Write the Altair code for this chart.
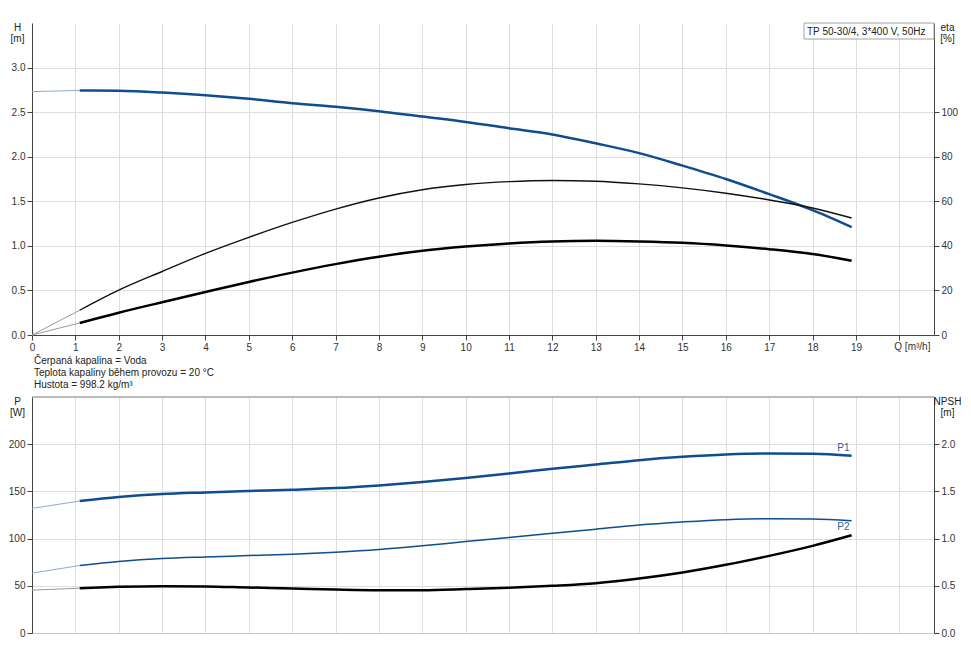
import altair as alt
import pandas as pd

# ---- data ----
Q = [1.1, 2, 3, 4, 5, 6, 7, 8, 9, 10, 11, 12, 13, 14, 15, 16, 17, 18, 18.9]
H = [2.744, 2.74, 2.72, 2.69, 2.65, 2.60, 2.56, 2.51, 2.45, 2.39, 2.32, 2.25,
     2.15, 2.04, 1.90, 1.75, 1.58, 1.40, 1.21]
ETA_PUMP = [11.1, 20.1, 28.5, 36.6, 43.8, 50.5, 56.5, 61.5, 65.2, 67.5, 68.8,
            69.3, 69.0, 67.8, 66.0, 63.6, 60.6, 57.0, 52.5]
ETA_TOTAL = [5.4, 10.0, 14.7, 19.3, 23.8, 28.0, 31.8, 35.1, 37.8, 39.7, 41.1,
             42.0, 42.3, 42.0, 41.4, 40.2, 38.5, 36.3, 33.3]
P1 = [139.8, 144.0, 147.2, 148.9, 150.4, 151.8, 153.5, 156.3, 159.9, 164.1,
      169.0, 173.9, 178.5, 183.1, 186.6, 189.1, 190.1, 189.8, 187.7]
P2 = [71.5, 75.7, 78.9, 80.6, 82.0, 83.5, 85.6, 88.4, 92.3, 96.8, 101.1,
      105.6, 109.9, 114.4, 117.6, 120.1, 121.1, 120.8, 119.0]
NPSH = [0.475, 0.489, 0.496, 0.493, 0.482, 0.472, 0.461, 0.454, 0.454, 0.465,
        0.479, 0.500, 0.528, 0.577, 0.641, 0.722, 0.817, 0.923, 1.035]

# start-up extensions (thin lines from Q = 0)
Q_EXT = [0, 1.1]
H_EXT = [2.73, 2.744]
ETA_PUMP_EXT = [0, 11.1]
ETA_TOTAL_EXT = [0, 5.4]
P1_EXT = [132.0, 139.8]
P2_EXT = [63.4, 71.5]
NPSH_EXT = [0.454, 0.475]

X_TICKS = list(range(0, 21))
H_TICKS = [0, 0.5, 1.0, 1.5, 2.0, 2.5, 3.0]
ETA_TICKS = [0, 20, 40, 60, 80, 100]
P_TICKS = [0, 50, 100, 150, 200]
NPSH_TICKS = [0, 0.5, 1.0, 1.5, 2.0]

LABEL_NAMES = ["P1", "P2"]
LABEL_Q = [18.71, 18.71]
LABEL_P = [195.5, 112.7]

PUMP_TITLE = "TP 50-30/4, 3*400 V, 50Hz"
NOTES = "Čerpaná kapalina = Voda\nTeplota kapaliny během provozu = 20 °C\nHustota = 998.2 kg/m³"

BLUE = "#0f4d8e"
LIGHT_BLUE = "#8eaacb"
GREY_EXT = "#9a9a9a"
GRID = "#dedede"
AX = "#444444"

W = 902
H_TOP = 312
H_BOT = 236


def df(x, y):
    return pd.DataFrame({"Q": x, "v": y})


def title_props(tx):
    return dict(titleAngle=0, titleX=tx, titleY=-1, titleAlign="center",
                titleBaseline="top", titleFontWeight="normal", titleFontSize=10,
                titleLineHeight=11)


xscale = alt.Scale(domain=[0, 20.8], nice=False, zero=False)

x_top = alt.X("Q:Q", scale=xscale,
              axis=alt.Axis(values=X_TICKS, grid=True, gridColor=GRID,
                            labelExpr="datum.value == 20 ? '' : datum.label",
                            domainColor=AX, tickColor=AX, tickSize=5,
                            labelPadding=2, labelOverlap=False, labelFlush=False,
                            title=None))
x_bot = alt.X("Q:Q", scale=xscale,
              axis=alt.Axis(values=X_TICKS, grid=True, gridColor=GRID,
                            labels=False, ticks=False, domainColor="#c8c8c8",
                            title=None))

y_h = alt.Y("v:Q", scale=alt.Scale(domain=[0, 3.5], nice=False),
            axis=alt.Axis(values=H_TICKS, format=".1f", grid=True, gridColor=GRID,
                          domainColor=AX, tickColor=AX, tickSize=5, labelPadding=2,
                          title=["H", "[m]"], **title_props(-15)))
y_eta = alt.Y("v:Q", scale=alt.Scale(domain=[0, 140], nice=False),
              axis=alt.Axis(orient="right", values=ETA_TICKS, grid=False,
                            domainColor=AX, tickColor=AX, tickSize=5, labelPadding=2,
                            title=["eta", "[%]"], **title_props(13)))
y_p = alt.Y("v:Q", scale=alt.Scale(domain=[0, 250], nice=False),
            axis=alt.Axis(values=P_TICKS, grid=True, gridColor=GRID,
                          domainColor=AX, tickColor=AX, tickSize=5, labelPadding=2,
                          title=["P", "[W]"], **title_props(-15)))
y_npsh = alt.Y("v:Q", scale=alt.Scale(domain=[0, 2.5], nice=False),
               axis=alt.Axis(orient="right", values=NPSH_TICKS, format=".1f", grid=False,
                             domainColor=AX, tickColor=AX, tickSize=5, labelPadding=2,
                             title=["NPSH", "[m]"], **title_props(13)))


def line(x, y, color, width, xenc, yenc):
    return alt.Chart(df(x, y)).mark_line(color=color, strokeWidth=width,
                                         interpolate="monotone").encode(x=xenc, y=yenc)


# ---- top panel ----
h_layer = alt.layer(
    line(Q_EXT, H_EXT, LIGHT_BLUE, 1, x_top, y_h),
    line(Q, H, BLUE, 2.5, x_top, y_h),
)
eta_layer = alt.layer(
    line(Q_EXT, ETA_PUMP_EXT, GREY_EXT, 1, x_top, y_eta),
    line(Q, ETA_PUMP, "#111111", 1.4, x_top, y_eta),
    line(Q_EXT, ETA_TOTAL_EXT, GREY_EXT, 1, x_top, y_eta),
    line(Q, ETA_TOTAL, "#000000", 2.5, x_top, y_eta),
)

one = pd.DataFrame({"a": [0]})
box = alt.Chart(one).mark_rect(fill="white", stroke="#a0a0a0", strokeWidth=1).encode(
    x=alt.value(772), x2=alt.value(W), y=alt.value(0), y2=alt.value(16))
box_text = alt.Chart(one).mark_text(align="left", baseline="middle", fontSize=10,
                                    color="#222222").encode(
    x=alt.value(775), y=alt.value(8.5), text=alt.value(PUMP_TITLE))
q_label = alt.Chart(one).mark_text(align="left", baseline="top", fontSize=10,
                                   color="#333333").encode(
    x=alt.value(20 * W / 20.8 - 5), y=alt.value(H_TOP + 7), text=alt.value("Q [m³/h]"))
notes = alt.Chart(one).mark_text(align="left", baseline="alphabetic", fontSize=10,
                                 lineBreak="\n", lineHeight=12, color="#222222").encode(
    x=alt.value(2), y=alt.value(341), text=alt.value(NOTES))

top = alt.layer(h_layer, eta_layer, box, box_text, q_label, notes).resolve_scale(
    y="independent").properties(width=W, height=H_TOP)

# ---- bottom panel ----
p_layer = alt.layer(
    alt.Chart(one).mark_rule(color="#777777", strokeWidth=1).encode(
        x=alt.value(0), x2=alt.value(W), y=alt.value(0)),
    line(Q_EXT, P1_EXT, LIGHT_BLUE, 1, x_bot, y_p),
    line(Q, P1, BLUE, 2.5, x_bot, y_p),
    line(Q_EXT, P2_EXT, LIGHT_BLUE, 1, x_bot, y_p),
    line(Q, P2, BLUE, 1.5, x_bot, y_p),
    alt.Chart(pd.DataFrame({"Q": LABEL_Q, "v": LABEL_P, "name": LABEL_NAMES}))
    .mark_text(fontSize=10, color="#2b62a3", align="center", baseline="middle")
    .encode(x=x_bot, y=y_p, text="name:N"),
)
npsh_layer = alt.layer(
    line(Q_EXT, NPSH_EXT, GREY_EXT, 1, x_bot, y_npsh),
    line(Q, NPSH, "#000000", 2.5, x_bot, y_npsh),
)
bottom = alt.layer(p_layer, npsh_layer).resolve_scale(y="independent").properties(
    width=W, height=H_BOT)

chart = alt.vconcat(top, bottom, spacing=62, bounds="flush").properties(
    padding={"left": 0, "top": 14, "right": 0, "bottom": 0}
).configure(font="Liberation Sans").configure_view(stroke=None).configure_axis(
    labelFontSize=10, labelColor="#333333", titleColor="#222222")

chart.save("out.html", embed_options={"renderer": "svg", "actions": False})
